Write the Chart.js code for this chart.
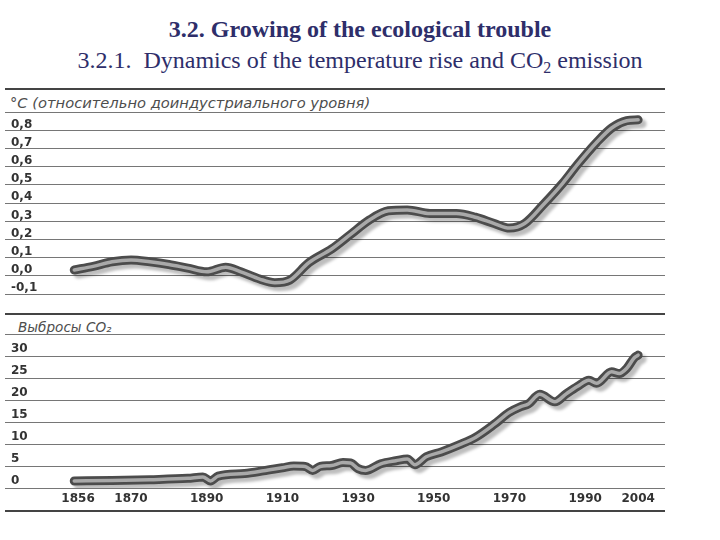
<!DOCTYPE html>
<html><head><meta charset="utf-8">
<script src="https://cdn.jsdelivr.net/npm/chart.js@4.4.1/dist/chart.umd.min.js"></script>
<style>
html,body{margin:0;padding:0;background:#fff;}
#page{position:relative;width:720px;height:540px;overflow:hidden;background:#fff;}
.t1{position:absolute;left:0;width:720px;top:17px;line-height:24px;text-align:center;font-weight:bold;font-size:24px;font-family:"Liberation Serif","Times New Roman",serif;color:#2e2e6a;white-space:nowrap;}
.t2{position:absolute;left:0;width:720px;top:48px;line-height:24px;text-align:center;font-size:24px;font-family:"Liberation Serif","Times New Roman",serif;color:#2e2e6a;white-space:nowrap;}
.t2 sub{font-size:16px;vertical-align:-5px;line-height:0;}
.rule{position:absolute;left:5px;width:660px;background:#444;}
.hdr{position:absolute;font-style:italic;line-height:18px;font-family:"DejaVu Sans",sans-serif;color:#4d4d4d;white-space:nowrap;}
#w1{position:absolute;left:0;top:100px;width:720px;height:200px;}
#w2{position:absolute;left:0;top:320px;width:720px;height:190px;}
</style></head>
<body><div id="page">
<div class="t1">3.2. Growing of the ecological trouble</div>
<div class="t2">3.2.1.&nbsp; Dynamics of the temperature rise and CO<sub>2</sub> emission</div>
<div class="rule" style="top:88px;height:1.5px"></div>
<div class="hdr" style="left:10px;top:94px;font-size:14.7px">°C (относительно доиндустриального уровня)</div>
<div class="rule" style="top:313px;height:2px"></div>
<div class="hdr" style="left:18px;top:318px;font-size:13.6px">Выбросы CO₂</div>
<div class="rule" style="top:510px;height:1.5px"></div>
<div id="w1"><canvas id="c1" width="720" height="200"></canvas></div>
<div id="w2"><canvas id="c2" width="720" height="190"></canvas></div>
</div>
<script>
// ---- data ----
const tempYears  = [1855,1860,1865,1870,1875,1880,1885,1890,1895,1899,1904,1908,1912,1917,1923,1928,1933,1938,1943,1949,1956,1961,1966,1970,1974,1979,1984,1988,1993,1997,2001,2004];
const tempValues = [0.00,0.02,0.045,0.055,0.045,0.03,0.01,-0.01,0.015,-0.01,-0.05,-0.07,-0.055,0.04,0.115,0.195,0.275,0.325,0.33,0.31,0.31,0.29,0.255,0.23,0.255,0.36,0.475,0.58,0.70,0.78,0.82,0.825];
const co2Years  = [1855,1865,1875,1885,1889,1891,1893,1900,1905,1910,1913,1916,1918,1920,1923,1926,1928,1930,1932,1936,1940,1943,1945,1948,1952,1957,1961,1966,1970,1973,1975,1978,1982,1985,1988,1991,1993,1997,1999,2001,2003,2004];
const co2Values = [0.0,0.1,0.3,0.6,0.9,0.0,1.1,1.7,2.3,3.0,3.4,3.3,2.4,3.3,3.5,4.2,4.1,2.8,2.4,3.9,4.6,5.0,3.7,5.5,6.6,8.3,9.9,12.9,15.6,16.9,17.5,19.7,18.0,19.8,21.5,22.9,22.2,24.8,24.4,25.6,28.0,28.6];
const tempTicks = [-0.1,0.0,0.1,0.2,0.3,0.4,0.5,0.6,0.7,0.8];
const co2Ticks  = [0,5,10,15,20,25,30];
const yearTicks = [1856,1870,1890,1910,1930,1950,1970,1990,2004];

// ---- layout constants ----
const X_MIN = 1836.7, X_MAX = 2011.1;
const TEMP_STEP = 0.1, TEMP_SHIFT = 0.018;
const CO2_STEP = 5, CO2_SHIFT = 0.9;

function bands(ticks, step, shift){
  const g = ticks.map(v => v + shift - step/2);
  g.push(ticks[ticks.length-1] + shift + step/2);
  return g;
}
const tempGrid = bands(tempTicks, TEMP_STEP, TEMP_SHIFT);
const co2Grid  = bands(co2Ticks, CO2_STEP, CO2_SHIFT);

// shadow under the outline dataset (index 1, drawn first)
const tubeShadow = {
  id:'tubeShadow',
  beforeDatasetDraw(chart, args){
    if(args.index===1){const c=chart.ctx;c.save();c.shadowColor='rgba(0,0,0,0.26)';c.shadowBlur=3;c.shadowOffsetX=4;c.shadowOffsetY=4;}
  },
  afterDatasetDraw(chart, args){ if(args.index===1) chart.ctx.restore(); }
};

const labelFont = {family:'"DejaVu Sans", sans-serif', weight:'bold', size:12};

function zeroFit(s){ s.width = 0; s.paddingTop = 0; s.paddingBottom = 0; }

function makeChart(id, xs, ys, ticks, grid, fmt, tension, padding, showX){
  const pts = xs.map((x,i)=>({x:x, y:ys[i]}));
  const min = grid[0], max = grid[grid.length-1];
  return new Chart(document.getElementById(id), {
    type:'line',
    data:{datasets:[
      {data:pts, borderColor:'#a9a9a9', borderWidth:3.5, pointRadius:0, tension:tension, cubicInterpolationMode:'monotone', borderCapStyle:'round', borderJoinStyle:'round', fill:false},
      {data:pts, borderColor:'#4c4c4c', borderWidth:9, pointRadius:0, tension:tension, cubicInterpolationMode:'monotone', borderCapStyle:'round', borderJoinStyle:'round', fill:false}
    ]},
    options:{
      responsive:false, animation:false, devicePixelRatio:1,
      layout:{padding:padding},
      plugins:{legend:{display:false}, tooltip:{enabled:false}},
      scales:{
        x:{type:'linear', min:X_MIN, max:X_MAX, bounds:'data', display:showX,
           afterBuildTicks:s=>{s.ticks=yearTicks.map(v=>({value:v}));},
           afterFit:s=>{ if(showX){ s.height=22; s.paddingLeft=0; s.paddingRight=0; } },
           grid:{display:false, drawTicks:false}, border:{display:false},
           ticks:{padding:4, maxRotation:0, autoSkip:false, font:labelFont, color:'#333', callback:v=>String(v)}},
        y:{type:'linear', position:'left', min:min, max:max, bounds:'data',
           afterBuildTicks:s=>{s.ticks=ticks.map(v=>({value:v}));},
           afterFit:zeroFit,
           grid:{display:false, drawTicks:false}, border:{display:false},
           ticks:{mirror:true, padding:6, font:labelFont, color:'#333', callback:fmt}},
        yg:{type:'linear', position:'left', min:min, max:max, bounds:'data',
           afterBuildTicks:s=>{s.ticks=grid.map(v=>({value:v}));},
           afterFit:zeroFit,
           grid:{color:'#767676', lineWidth:1, drawTicks:false}, border:{display:false},
           ticks:{display:false}}
      }
    },
    plugins:[tubeShadow]
  });
}

makeChart('c1', tempYears, tempValues, tempTicks, tempGrid, v=>v.toFixed(1).replace('.',',').replace('-0,0','0,0'), 0.4, {left:5,right:55,top:12,bottom:6}, false);
makeChart('c2', co2Years, co2Values, co2Ticks, co2Grid, v=>String(v), 0.25, {left:5,right:55,top:14,bottom:0}, true);
</script>
</body></html>
